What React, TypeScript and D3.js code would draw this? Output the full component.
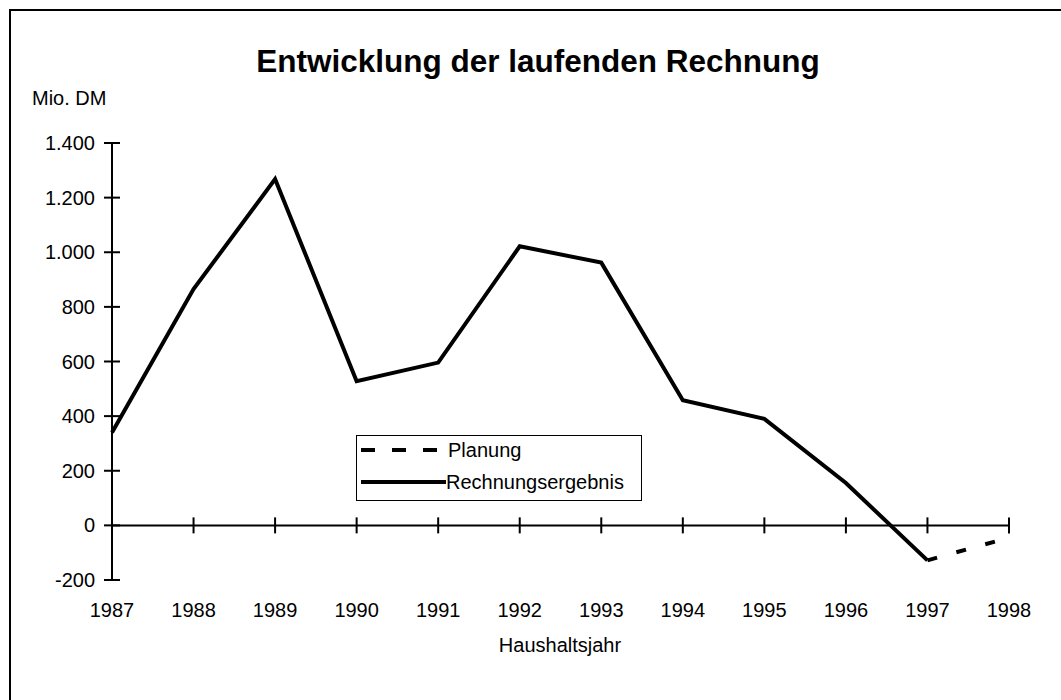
import React from "react";
import * as d3 from "d3";

const years = [1987, 1988, 1989, 1990, 1991, 1992, 1993, 1994, 1995, 1996, 1997, 1998];
const rechnungsergebnis = [340, 865, 1268, 528, 596, 1022, 962, 458, 390, 155, -128];
const planungYears = [1997, 1998];
const planung = [-128, -45];
const yTicks = [-200, 0, 200, 400, 600, 800, 1000, 1200, 1400];
const yTickLabels = ["-200", "0", "200", "400", "600", "800", "1.000", "1.200", "1.400"];

const FONT = "Arial, 'Liberation Sans', sans-serif";

export default function App() {
  const W = 1061, H = 700;
  const x = d3.scaleLinear().domain([1987, 1998]).range([112, 1009]);
  const y = d3.scaleLinear().domain([-200, 1400]).range([580, 143]);
  const line = d3.line<[number, number]>().x(d => x(d[0])).y(d => y(d[1]));
  const solidData: [number, number][] = rechnungsergebnis.map((v, i) => [years[i], v]);
  const planData: [number, number][] = planung.map((v, i) => [planungYears[i], v]);

  return (
    <svg width={W} height={H} style={{ position: "absolute", left: 0, top: 0 }} fontFamily={FONT}>
      <rect x={0} y={0} width={W} height={H} fill="#fff" />
      <rect x={10} y={10} width={1100} height={800} fill="none" stroke="#000" strokeWidth={2} />
      <text x={538} y={72} textAnchor="middle" fontSize={31.5} fontWeight="bold">Entwicklung der laufenden Rechnung</text>
      <text x={32} y={105} fontSize={20}>Mio. DM</text>
      {/* y axis */}
      <line x1={x(1987)} x2={x(1987)} y1={y(1400)} y2={y(-200)} stroke="#000" strokeWidth={2} />
      {yTicks.map((t, i) => (
        <g key={t}>
          <line x1={x(1987) - 8} x2={x(1987) + 8} y1={y(t)} y2={y(t)} stroke="#000" strokeWidth={2} />
          <text x={95} y={y(t)} dy="0.35em" textAnchor="end" fontSize={20}>{yTickLabels[i]}</text>
        </g>
      ))}
      {/* x axis */}
      <line x1={x(1987)} x2={x(1998)} y1={y(0)} y2={y(0)} stroke="#000" strokeWidth={2} />
      {years.map(yr => (
        <g key={yr}>
          <line x1={x(yr)} x2={x(yr)} y1={y(0) - 8} y2={y(0) + 8} stroke="#000" strokeWidth={2} />
          <text x={x(yr)} y={617} textAnchor="middle" fontSize={20}>{yr}</text>
        </g>
      ))}
      <text x={560} y={652} textAnchor="middle" fontSize={20}>Haushaltsjahr</text>
      {/* series */}
      <path d={line(solidData) || ""} fill="none" stroke="#000" strokeWidth={4} strokeLinejoin="miter" />
      <path d={line(planData) || ""} fill="none" stroke="#000" strokeWidth={4} strokeDasharray="10,20" />
      {/* legend */}
      <rect x={356.5} y={435.5} width={285} height={65} fill="#fff" stroke="#000" strokeWidth={1} />
      <line x1={361} x2={441} y1={450} y2={450} stroke="#000" strokeWidth={4} strokeDasharray="14,17" />
      <text x={448} y={457} fontSize={20}>Planung</text>
      <line x1={361} x2={446} y1={482} y2={482} stroke="#000" strokeWidth={4} />
      <text x={446} y={489} fontSize={20}>Rechnungsergebnis</text>
    </svg>
  );
}
